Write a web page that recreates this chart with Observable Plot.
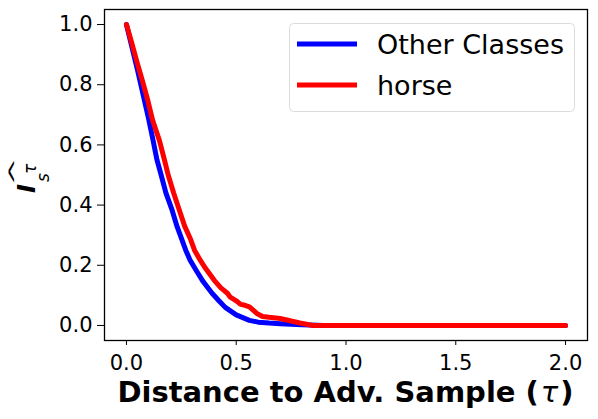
<!DOCTYPE html>
<html>
<head>
<meta charset="utf-8">
<script src="https://cdn.jsdelivr.net/npm/d3@7"></script>
<script src="https://cdn.jsdelivr.net/npm/@observablehq/plot@0.6"></script>
<style>
  html, body { margin: 0; padding: 0; background: #fff; }
  svg { font-family: "DejaVu Sans", sans-serif; }
</style>
</head>
<body>
<div id="chart"></div>
<script>
// ---- data ----
const seriesNames = ["Other Classes", "horse"];
const seriesColors = ["#0000ff", "#ff0000"];

const tauOther = [0, 0.025, 0.05, 0.079, 0.1, 0.12, 0.139, 0.158, 0.18, 0.208, 0.23, 0.25, 0.27, 0.29, 0.32, 0.35, 0.39, 0.42, 0.45, 0.5, 0.56, 0.6, 0.65, 0.7, 0.8, 0.9, 1.0, 1.5, 2.0];
const otherClasses = [1.0, 0.925, 0.85, 0.757, 0.69, 0.62, 0.55, 0.50, 0.44, 0.383, 0.33, 0.29, 0.25, 0.217, 0.18, 0.145, 0.107, 0.083, 0.06, 0.035, 0.017, 0.011, 0.008, 0.006, 0.002, 0.0, 0.0, 0.0, 0.0];

const tauHorse = [0, 0.02, 0.05, 0.07, 0.094, 0.12, 0.15, 0.173, 0.19, 0.215, 0.241, 0.265, 0.29, 0.31, 0.336, 0.36, 0.4, 0.43, 0.46, 0.473, 0.5, 0.52, 0.54, 0.56, 0.594, 0.62, 0.65, 0.7, 0.75, 0.79, 0.85, 1.0, 1.5, 2.0];
const horse = [1.0, 0.95, 0.87, 0.82, 0.757, 0.68, 0.615, 0.55, 0.5, 0.44, 0.383, 0.33, 0.29, 0.25, 0.217, 0.19, 0.15, 0.125, 0.107, 0.094, 0.082, 0.07, 0.067, 0.062, 0.04, 0.03, 0.027, 0.023, 0.015, 0.008, 0.0, 0.0, 0.0, 0.0];

const xTicks = [0, 0.5, 1.0, 1.5, 2.0];
const yTicks = [0, 0.2, 0.4, 0.6, 0.8, 1.0];
const xLabelMain = "Distance to Adv. Sample (";
const xLabelSym = "τ";
const xLabelEnd = ")";

// ---- tables ----
const otherData = tauOther.map((t, i) => ({tau: t, v: otherClasses[i]}));
const horseData = tauHorse.map((t, i) => ({tau: t, v: horse[i]}));

const W = 598, H = 419;
const mL = 104, mR = 11, mT = 9, mB = 79;
const chart = Plot.plot({
  width: W,
  height: H,
  marginLeft: mL,
  marginRight: mR,
  marginTop: mT,
  marginBottom: mB,
  style: {fontFamily: "DejaVu Sans, sans-serif", fontSize: "21px", color: "black", background: "white"},
  x: {domain: [-0.1, 2.1]},
  y: {domain: [-0.05, 1.05]},
  marks: [
    Plot.line(otherData, {x: "tau", y: "v", stroke: seriesColors[0], strokeWidth: 5, strokeLinejoin: "round"}),
    Plot.line(horseData, {x: "tau", y: "v", stroke: seriesColors[1], strokeWidth: 5, strokeLinejoin: "round"}),
    Plot.axisX({ticks: xTicks, tickFormat: d3.format(".1f"), tickSize: 5, tickPadding: 10, label: null, stroke: "black", fill: "black", fontSize: 21}),
    Plot.axisY({ticks: yTicks, tickFormat: d3.format(".1f"), tickSize: 7, tickPadding: 5, label: null, stroke: "black", fill: "black", fontSize: 21}),
    Plot.frame({stroke: "black", strokeWidth: 1.3})
  ]
});
document.getElementById("chart").appendChild(chart);

const svg = d3.select(chart);

// ---- x label ----
const xl = svg.append("text").attr("x", mL + (W - mL - mR) / 2).attr("y", 402)
  .attr("text-anchor", "middle").attr("font-size", 29).attr("font-weight", "bold").attr("fill", "black");
xl.append("tspan").text(xLabelMain);
xl.append("tspan").attr("font-style", "italic").attr("font-weight", "normal").attr("dx", 2).text(xLabelSym);
xl.append("tspan").attr("dx", 2).text(xLabelEnd);

// ---- y label: widehat I, sub s, sup tau (rotated) ----
const yl = svg.append("g").attr("transform", "translate(35,193) rotate(-90)").attr("fill", "black").attr("text-anchor", "start");
yl.append("text").attr("x", 0).attr("y", 0).attr("font-size", 24).attr("font-style", "italic").attr("font-weight", "bold").text("I");
yl.append("text").attr("x", 11).attr("y", 14).attr("font-size", 17).attr("font-style", "italic").text("s");
yl.append("text").attr("x", 19).attr("y", 1).attr("font-size", 17).attr("font-style", "italic").text("τ");
yl.append("text").attr("transform", "translate(21.5,-12.5) scale(1.75,1)").attr("text-anchor", "middle").attr("font-size", 20).text("^");

// ---- legend ----
const lg = svg.append("g").attr("text-anchor", "start");
lg.append("rect").attr("x", 289.5).attr("y", 23.5).attr("width", 285).attr("height", 88).attr("rx", 4)
  .attr("fill", "white").attr("fill-opacity", 0.8).attr("stroke", "#dcdcdc").attr("stroke-width", 1);
const rowsY = [44, 85];
seriesNames.forEach((name, i) => {
  lg.append("line").attr("x1", 297).attr("x2", 357).attr("y1", rowsY[i]).attr("y2", rowsY[i])
    .attr("stroke", seriesColors[i]).attr("stroke-width", 5);
  lg.append("text").attr("x", 377).attr("y", rowsY[i] + 10).attr("font-size", 27).attr("fill", "black").text(name);
});
</script>
</body>
</html>
